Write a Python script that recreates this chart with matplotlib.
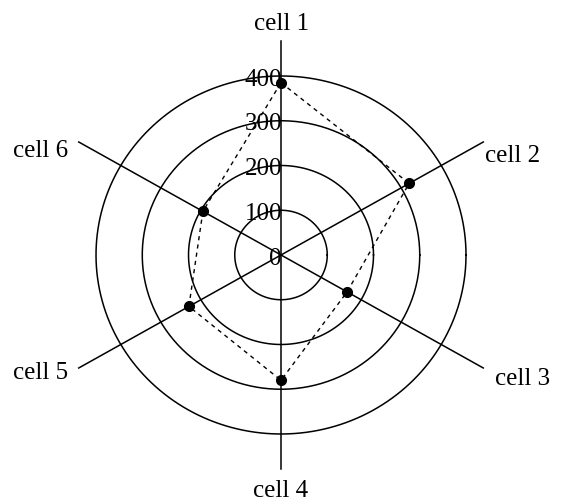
import numpy as np
import matplotlib.pyplot as plt

cells = ["cell 1", "cell 2", "cell 3", "cell 4", "cell 5", "cell 6"]
values = [385, 320, 165, 280, 230, 195]
rings = [100, 200, 300, 400]
ring_labels = ["0", "100", "200", "300", "400"]

plt.rcParams["font.family"] = ["Liberation Serif", "DejaVu Serif"]

fig = plt.figure(figsize=(5.61, 5.03), dpi=100)
ax = fig.add_axes([0, 0, 1, 1])
ax.set_xlim(-607.6, 605.4)
ax.set_ylim(-554.2, 569.8)
ax.axis("off")

# spokes, cell 1 at the top, going clockwise
angles = np.deg2rad(90 - 60 * np.arange(len(cells)))
spoke_len = [478, 505, 505, 478, 505, 505]
for a, L in zip(angles, spoke_len):
    ax.plot([0, L * np.cos(a)], [0, L * np.sin(a)], color="black", lw=1.1)

t = np.linspace(0, 2 * np.pi, 400)
for r in rings:
    ax.plot(r * np.cos(t), r * np.sin(t), color="black", lw=1.1)

for i, lab in enumerate(ring_labels):
    ax.text(2, i * 100 - 8, lab, ha="right", va="center", fontsize=18)

# data polygon
vals = np.array(values)
xs = vals * np.cos(angles)
ys = vals * np.sin(angles)
ax.plot(np.append(xs, xs[0]), np.append(ys, ys[0]), color="black", lw=1.0, ls=(0, (3, 3)))
ax.plot(xs, ys, "o", color="black", ms=7, zorder=5)

# cell labels (baseline positions)
label_pos = [
    (2, 503, "center"),
    (441, 208, "left"),
    (463, -290, "left"),
    (0, -541, "center"),
    (-460, -277, "right"),
    (-460, 219, "right"),
]
for name, (lx, ly, ha) in zip(cells, label_pos):
    ax.text(lx, ly, name, ha=ha, va="baseline", fontsize=18)

fig.savefig("out.png", dpi=100)
